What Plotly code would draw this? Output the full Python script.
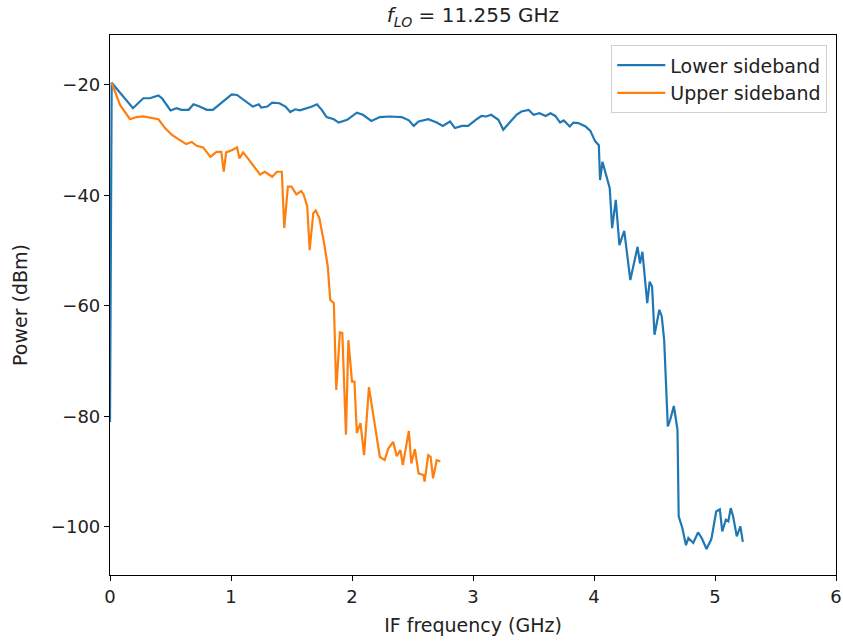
import plotly.graph_objects as go

lower_x = [0.0, 0.014, 0.19, 0.275, 0.33, 0.4, 0.43, 0.5, 0.55, 0.59, 0.65, 0.69, 0.74, 0.8, 0.85, 0.92,
           1.006, 1.05, 1.13, 1.18, 1.23, 1.25, 1.3, 1.34, 1.4, 1.45, 1.49, 1.53, 1.57, 1.63, 1.67, 1.71,
           1.75, 1.79, 1.85, 1.89, 1.96, 2.04, 2.09, 2.16, 2.23, 2.31, 2.41, 2.47, 2.51, 2.55, 2.63, 2.7,
           2.75, 2.81, 2.85, 2.91, 2.96, 3.03, 3.07, 3.11, 3.15, 3.21, 3.25, 3.31, 3.36, 3.4, 3.46, 3.5,
           3.55, 3.6, 3.64, 3.68, 3.72, 3.75, 3.8, 3.83, 3.87, 3.93, 3.97, 4.01, 4.04, 4.05, 4.07, 4.13,
           4.15, 4.18, 4.21, 4.25, 4.3, 4.36, 4.38, 4.4, 4.44, 4.46, 4.48, 4.5, 4.54, 4.56, 4.58, 4.61,
           4.63, 4.66, 4.69, 4.7, 4.73, 4.76, 4.78, 4.82, 4.86, 4.89, 4.93, 4.97, 5.01, 5.04, 5.06, 5.09,
           5.11, 5.13, 5.15, 5.18, 5.21, 5.23]
lower_y = [-81.0, -19.6, -24.2, -22.4, -22.4, -21.9, -22.4, -24.6, -24.2, -24.5, -24.5, -23.5, -23.9, -24.5, -24.5, -23.3,
           -21.7, -21.8, -23.0, -23.9, -23.5, -24.1, -23.9, -23.2, -23.3, -23.9, -24.9, -24.4, -24.6, -24.2, -23.9, -23.5,
           -24.5, -25.8, -26.2, -26.8, -26.3, -25.0, -25.4, -26.5, -25.8, -25.7, -25.8, -26.4, -27.4, -26.6, -26.2, -26.8,
           -27.4, -26.6, -27.8, -27.4, -27.4, -26.2, -25.6, -25.7, -25.4, -26.3, -28.1, -26.6, -25.4, -24.8, -24.5, -25.4,
           -25.1, -25.6, -25.1, -25.6, -26.8, -26.4, -27.5, -26.8, -26.9, -27.5, -28.3, -30.2, -30.9, -37.2, -33.9, -38.7,
           -45.9, -40.8, -49.0, -46.4, -55.3, -49.3, -52.3, -50.2, -59.5, -55.6, -56.5, -65.2, -60.7, -61.9, -66.2, -81.8,
           -80.6, -78.1, -82.4, -98.1, -100.2, -103.3, -102.0, -102.9, -101.0, -102.0, -104.0, -102.2, -97.2, -96.8, -100.8, -98.7,
           -99.0, -96.6, -98.1, -101.7, -99.9, -102.7]

upper_x = [0.014, 0.083, 0.165, 0.22, 0.275, 0.34, 0.4, 0.455, 0.51, 0.565, 0.63, 0.675, 0.716, 0.77, 0.83, 0.88,
           0.92, 0.94, 0.96, 1.006, 1.05, 1.07, 1.1, 1.13, 1.18, 1.24, 1.28, 1.34, 1.38, 1.42, 1.44, 1.47,
           1.5, 1.54, 1.58, 1.6, 1.63, 1.65, 1.68, 1.7, 1.73, 1.77, 1.8, 1.82, 1.85, 1.87, 1.9, 1.92,
           1.95, 1.97, 2.0, 2.02, 2.04, 2.07, 2.1, 2.14, 2.18, 2.2, 2.23, 2.27, 2.3, 2.34, 2.37, 2.4,
           2.42, 2.47, 2.49, 2.52, 2.55, 2.59, 2.6, 2.63, 2.65, 2.67, 2.7, 2.73]
upper_y = [-19.6, -23.6, -26.2, -25.8, -25.7, -26.0, -26.2, -27.8, -29.0, -29.8, -30.7, -30.3, -31.0, -31.3, -33.0, -32.1,
           -32.1, -35.7, -32.2, -31.8, -31.3, -33.3, -32.2, -33.0, -34.5, -36.2, -35.7, -36.6, -35.7, -35.7, -45.9, -38.4,
           -38.4, -39.8, -39.2, -39.8, -42.0, -49.9, -43.2, -42.7, -44.1, -48.7, -52.9, -58.9, -59.5, -75.2, -64.8, -64.9,
           -83.3, -66.2, -73.7, -73.7, -83.0, -81.2, -87.0, -74.7, -80.3, -83.3, -87.3, -87.9, -85.8, -84.6, -87.2, -86.1,
           -88.8, -82.6, -88.5, -85.9, -90.3, -90.6, -91.8, -87.0, -87.3, -91.2, -87.9, -88.1]

x_ticks = [0, 1, 2, 3, 4, 5, 6]
y_ticks = [-100, -80, -60, -40, -20]

fig = go.Figure()
fig.add_trace(go.Scatter(x=lower_x, y=lower_y, mode="lines", name="Lower sideband",
                         line=dict(color="#1f77b4", width=2.2)))
fig.add_trace(go.Scatter(x=upper_x, y=upper_y, mode="lines", name="Upper sideband",
                         line=dict(color="#ff7f0e", width=2.2)))

font = "DejaVu Sans"
axis_common = dict(showline=True, linecolor="black", linewidth=1.2, mirror=True,
                   ticks="outside", ticklen=5, tickcolor="black", showgrid=False,
                   zeroline=False, automargin=False,
                   tickfont=dict(family=font, size=18, color="#222222"))

fig.update_layout(
    width=843, height=643,
    margin=dict(l=110, r=7, t=35, b=68),
    plot_bgcolor="white", paper_bgcolor="white",
    title=dict(text="<i>f</i><sub><i>LO</i></sub> = 11.255 GHz", x=0.561, xanchor="center",
               y=0.976, yanchor="middle", font=dict(family=font, size=20, color="#222222")),
    xaxis=dict(range=[0, 6], tickvals=x_ticks,
               title=dict(text="IF frequency (GHz)", font=dict(family=font, size=19, color="#222222"), standoff=12),
               **axis_common),
    yaxis=dict(range=[-108.7, -10.95], tickvals=y_ticks,
               title=dict(text="Power (dBm)", font=dict(family=font, size=19, color="#222222"), standoff=18),
               **axis_common),
    legend=dict(x=0.988, y=0.981, xanchor="right", yanchor="top",
                bgcolor="white", bordercolor="#d0d0d0", borderwidth=1,
                font=dict(family=font, size=19, color="#222222"), itemwidth=48,
                tracegroupgap=0),
    showlegend=True,
)

fig.write_html("out.html")
